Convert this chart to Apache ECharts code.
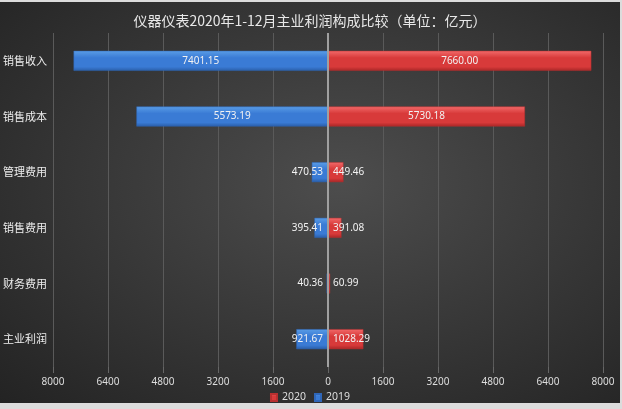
<!DOCTYPE html>
<html>
<head>
<meta charset="utf-8">
<script src="https://cdn.jsdelivr.net/npm/echarts@6/dist/echarts.min.js"></script>
<style>
html,body{margin:0;padding:0;background:#dcdcdc;width:622px;height:409px;overflow:hidden;}
#c{position:absolute;left:0;top:2px;width:620px;height:401px;
background:radial-gradient(ellipse at 55% 45%, #4d4d4d 0%, #3a3a3a 45%, #232323 100%);}
</style>
</head>
<body>
<div id="c"></div>
<script>
const titleText = '仪器仪表2020年1-12月主业利润构成比较（单位：亿元）';
const categories = ['销售收入','销售成本','管理费用','销售费用','财务费用','主业利润'];
const values2020 = [7660.00, 5730.18, 449.46, 391.08, 60.99, 1028.29];
const values2019 = [7401.15, 5573.19, 470.53, 395.41, 40.36, 921.67];
const legendNames = ['2020','2019'];

const chart = echarts.init(document.getElementById('c'));
const fmt = p => Math.abs(p.value).toFixed(2);
const grad = (top, mid, bot) => new echarts.graphic.LinearGradient(0,0,0,1,[
  {offset:0,color:top},{offset:0.35,color:mid},{offset:0.8,color:mid},{offset:1,color:bot}]);

const data2019 = values2019.map(v => ({
  value: -v,
  label: { position: v > 3000 ? 'inside' : 'insideRight', distance: 5 }
}));
const data2020 = values2020.map(v => ({
  value: v,
  label: { position: v > 3000 ? 'inside' : 'insideLeft', distance: 5 }
}));

chart.setOption({
  animation: false,
  title: {
    text: titleText, left: 'center', top: 7,
    textStyle: { color: '#e8e8e8', fontSize: 14, fontWeight: 'normal', fontFamily: 'Noto Sans CJK SC' }
  },
  legend: {
    data: legendNames, top: 385, left: 'center', icon: 'rect',
    itemWidth: 6, itemHeight: 7, itemGap: 8,
    textStyle: { color: '#dddddd', fontSize: 10.5, fontFamily: 'Noto Sans' }
  },
  grid: { left: 53, right: 17, top: 31, bottom: 36 },
  xAxis: {
    type: 'value', min: -8000, max: 8000, interval: 1600,
    axisLabel: { color: '#dddddd', fontSize: 10, margin: 10, fontFamily: 'Noto Sans',
      formatter: v => Math.abs(v) },
    axisLine: { show: false },
    axisTick: { show: true, length: 6, lineStyle: { color: '#666' } },
    splitLine: { show: true, lineStyle: { color: '#5a5a5a', width: 1 } }
  },
  yAxis: {
    type: 'category', data: categories, inverse: true,
    axisLine: { show: false }, axisTick: { show: false },
    axisLabel: { color: '#eeeeee', fontSize: 11, margin: 6, fontFamily: 'Noto Sans CJK SC' }
  },
  series: [
    {
      name: '2020', type: 'bar', data: data2020, barWidth: 20, barGap: '-100%',
      itemStyle: { color: grad('#f26a6a','#d83a3a','#a82626'), borderColor: '#b83030', borderWidth: 0.5 },
      label: { show: true, color: '#f2f2f2', fontSize: 10, formatter: fmt, fontFamily: 'Noto Sans' },
      z: 3
    },
    {
      name: '2019', type: 'bar', data: data2019, barWidth: 20, barGap: '-100%',
      itemStyle: { color: grad('#5a9de6','#3a7bd5','#2a5ea8'), borderColor: '#2f66b8', borderWidth: 0.5 },
      label: { show: true, color: '#f2f2f2', fontSize: 10, formatter: fmt, fontFamily: 'Noto Sans' },
      markLine: {
        silent: true, symbol: 'none', label: { show: false },
        lineStyle: { color: '#a0a0a0', width: 2, type: 'solid' },
        data: [{ xAxis: 0 }]
      },
      z: 3
    }
  ]
});
</script>
</body>
</html>
